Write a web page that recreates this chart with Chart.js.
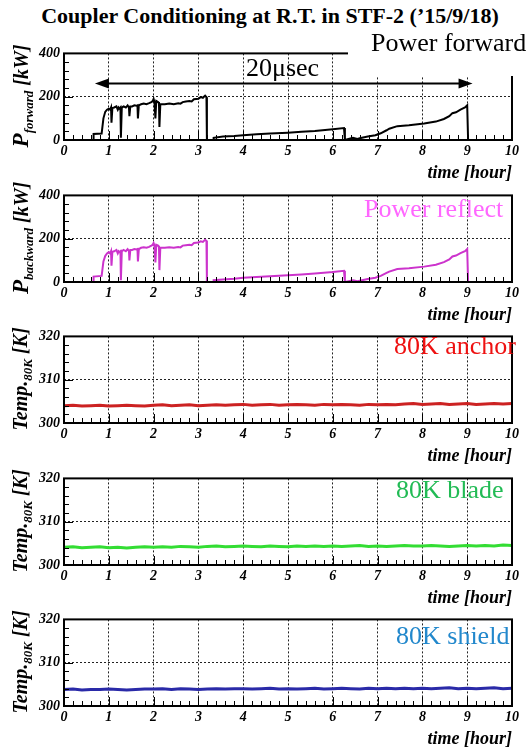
<!DOCTYPE html>
<html><head><meta charset="utf-8">
<script src="https://cdn.jsdelivr.net/npm/chart.js@4/dist/chart.umd.min.js"></script>
<style>
html,body{margin:0;padding:0;background:#fff;}
#wrap{position:relative;width:532px;height:748px;overflow:hidden;font-family:"Liberation Serif","Times New Roman",serif;}
canvas{position:absolute;left:0;}
.t{position:absolute;white-space:nowrap;line-height:1;}
.title{font-weight:bold;font-size:22px;left:0;width:540px;text-align:center;top:5px;}
.lab{font-size:26px;}
.time{font-weight:bold;font-style:italic;font-size:18px;right:20px;}
.yt{position:absolute;left:22px;white-space:nowrap;line-height:1;font-weight:bold;font-style:italic;font-size:20px;transform:translate(-50%,-50%) rotate(-90deg);}
.yt .big{font-size:23px;}
.yt sub{font-size:13px;vertical-align:-5px;}
</style></head>
<body><div id="wrap">
<canvas id="c1" width="532" height="121"></canvas>
<canvas id="c2" width="532" height="121"></canvas>
<canvas id="c3" width="532" height="121"></canvas>
<canvas id="c4" width="532" height="121"></canvas>
<canvas id="c5" width="532" height="121"></canvas>
<div class="t title">Coupler Conditioning at R.T. in STF-2 (’15/9/18)</div>
<div class="t" style="left:348px;top:36px;width:184px;height:40px;background:#fff;"></div>
<div class="t lab" style="left:371px;top:30px;">Power forward</div>
<div class="t lab" style="left:246px;top:55px;">20μsec</div>
<div class="t lab" style="left:364px;top:196px;color:#ff66ff;">Power reflect</div>
<div class="t lab" style="left:394px;top:333px;color:#ee1111;">80K anchor</div>
<div class="t lab" style="left:396px;top:477px;color:#22bb55;">80K blade</div>
<div class="t lab" style="left:396px;top:623px;color:#2288cc;">80K shield</div>
<div class="t time" style="top:163px;">time [hour]</div>
<div class="t time" style="top:305px;">time [hour]</div>
<div class="t time" style="top:446px;">time [hour]</div>
<div class="t time" style="top:588px;">time [hour]</div>
<div class="t time" style="top:729px;">time [hour]</div>
<div class="yt" style="top:96px;"><span class="big">P</span><sub>forward</sub> [kW]</div>
<div class="yt" style="top:238px;"><span class="big">P</span><sub>backward</sub> [kW]</div>
<div class="yt" style="top:379px;">Temp.<sub>80K</sub> [K]</div>
<div class="yt" style="top:521px;">Temp.<sub>80K</sub> [K]</div>
<div class="yt" style="top:662px;">Temp.<sub>80K</sub> [K]</div>
</div>
<script>
// ---- data ----
const powerHours = [
 0,0.65,0.66,0.84,0.88,0.92,0.96,1.00,1.03,1.05,
 1.06,1.08,1.12,1.17,1.20,1.22,1.24,1.26,1.27,1.29,
 1.33,1.38,1.42,1.45,1.46,1.48,1.52,1.57,1.62,1.64,
 1.65,1.67,1.72,1.78,1.84,1.90,1.95,1.98,2.00,2.02,
 2.04,2.06,2.10,2.12,2.13,2.15,2.25,2.35,2.45,2.55,
 2.60,2.65,2.72,2.80,2.85,2.90,3.00,3.05,3.10,3.15,
 3.18,3.19,3.33,3.34,3.55,3.80,4.00,4.30,4.60,5.00,
 5.30,5.60,6.00,6.25,6.27,6.35,6.45,6.55,6.60,6.78,
 6.95,7.07,7.20,7.26,7.44,7.70,8.04,8.30,8.48,8.60,
 8.67,8.75,8.85,8.95,9.00,9.02,10];
const powerForward = [
 0,0,28,30,100,130,140,145,140,150,
 80,148,150,155,140,150,145,150,10,150,
 155,150,160,150,110,155,155,160,158,160,
 100,160,165,168,165,170,175,180,190,175,
 100,180,175,170,60,165,165,168,165,170,
 168,175,178,180,178,188,190,198,195,205,
 198,0,0,10,16,18,22,26,30,34,
 38,42,50,55,0,5,10,5,8,16,
 22,31,45,52,64,68,76,85,97,110,
 124,128,140,150,160,0,0];
const powerReflect = [
 0,0,25,28,95,120,132,138,132,142,
 75,140,142,148,132,142,138,142,8,142,
 148,142,152,142,100,148,148,152,150,152,
 95,152,158,160,158,162,168,172,180,168,
 90,172,168,162,55,158,158,160,158,162,
 160,168,170,172,170,180,182,188,185,195,
 190,0,0,8,12,15,20,23,27,31,
 35,39,46,52,0,4,8,4,6,14,
 20,28,42,48,60,64,71,80,92,104,
 118,122,133,142,152,0,0];
const tempHours = [
 0,0.2,0.4,0.6,0.8,1.0,1.2,1.4,1.6,1.8,
 2.0,2.2,2.4,2.6,2.8,3.0,3.2,3.4,3.6,3.8,
 4.0,4.2,4.4,4.6,4.8,5.0,5.2,5.4,5.6,5.8,
 6.0,6.2,6.4,6.6,6.8,7.0,7.2,7.4,7.6,7.8,
 8.0,8.2,8.4,8.6,8.8,9.0,9.2,9.4,9.6,9.8,10];
const tempAnchor = [
 304.0,304.1,303.9,304.0,304.1,303.9,304.0,304.1,304.0,303.9,
 304.1,304.2,304.0,304.1,304.2,304.0,304.1,304.2,304.1,304.2,
 304.3,304.1,304.2,304.3,304.1,304.2,304.3,304.2,304.1,304.3,
 304.2,304.3,304.2,304.1,304.3,304.2,304.3,304.2,304.4,304.5,
 304.3,304.4,304.5,304.3,304.4,304.5,304.3,304.4,304.5,304.4,304.5];
const tempBlade = [
 304.1,304.2,304.0,304.1,304.2,304.0,304.1,303.9,304.1,304.2,
 304.1,304.2,304.1,304.3,304.2,304.1,304.3,304.4,304.2,304.3,
 304.4,304.3,304.2,304.4,304.3,304.2,304.4,304.3,304.4,304.3,
 304.4,304.3,304.4,304.5,304.3,304.4,304.3,304.4,304.5,304.4,
 304.4,304.5,304.4,304.3,304.4,304.5,304.4,304.5,304.4,304.6,304.5];
const tempShield = [
 303.8,303.9,303.7,303.8,303.8,303.9,303.8,303.7,303.8,303.9,
 303.9,304.0,303.8,304.0,303.9,303.8,303.9,304.0,303.9,304.0,
 304.0,303.9,304.0,304.1,303.9,304.0,303.9,304.0,304.1,303.9,
 304.0,304.1,304.0,303.9,304.1,304.0,304.1,304.0,304.1,304.0,
 304.1,304.0,304.1,304.2,304.0,304.1,304.0,304.1,304.2,304.0,304.1];
const hourTicks = [0,1,2,3,4,5,6,7,8,9,10];

// ---- drawing ----
const tickFont = {family:'"Liberation Serif", serif', size:14, style:'italic', weight:'bold'};
const framePlugin = {
  id:'frame',
  afterDraw(chart){
    const {ctx, chartArea:a, scales:{x,y}} = chart;
    const o = chart.options.plugins.frame;
    ctx.save();
    ctx.strokeStyle='#000'; ctx.lineWidth=1;
    ctx.beginPath();
    for(let k=0;k<=50;k++){
      const px=Math.round(x.getPixelForValue(k*0.2))+0.5;
      const len=(k%5===0)?9:5;
      ctx.moveTo(px,a.bottom); ctx.lineTo(px,a.bottom-len);
    }
    for(let k=0;k<=10;k++){
      const py=Math.round(y.getPixelForValue(o.min+k*o.minor))+0.5;
      const len=(k%5===0)?9:5;
      ctx.moveTo(a.left,py); ctx.lineTo(a.left+len,py);
    }
    ctx.stroke();
    ctx.lineWidth=2;
    ctx.strokeRect(a.left,a.top,a.right-a.left,a.bottom-a.top);
    if(o.arrow){
      const yy=y.getPixelForValue(o.arrow.y);
      const x1=x.getPixelForValue(o.arrow.from), x2=x.getPixelForValue(o.arrow.to);
      ctx.lineWidth=2;
      ctx.beginPath(); ctx.moveTo(x1+10,yy); ctx.lineTo(x2-10,yy); ctx.stroke();
      ctx.fillStyle='#000';
      ctx.beginPath(); ctx.moveTo(x1,yy); ctx.lineTo(x1+14,yy-5); ctx.lineTo(x1+14,yy+5); ctx.closePath(); ctx.fill();
      ctx.beginPath(); ctx.moveTo(x2,yy); ctx.lineTo(x2-14,yy-5); ctx.lineTo(x2-14,yy+5); ctx.closePath(); ctx.fill();
    }
    ctx.restore();
  }
};

function makeChart(id, top, hours, values, o){
  const el=document.getElementById(id);
  el.style.top=top+'px';
  const mid=(o.min+o.max)/2;
  new Chart(el,{
    type:'line',
    data:{datasets:[{data:hours.map((h,i)=>({x:h,y:values[i]})),borderColor:o.color,borderWidth:o.bw,pointRadius:0,tension:0,fill:false}]},
    options:{
      responsive:false,animation:false,devicePixelRatio:1,
      layout:{padding:{top:10,right:20,left:0,bottom:0}},
      plugins:{legend:{display:false},tooltip:{enabled:false},
        frame:{min:o.min,minor:(o.max-o.min)/10,arrow:o.arrow}},
      scales:{
        x:{type:'linear',min:0,max:10,
          afterBuildTicks(s){s.ticks=hourTicks.map(v=>({value:v}));},
          ticks:{font:tickFont,color:'#000',padding:3,maxRotation:0,autoSkip:false},
          grid:{drawTicks:false,lineWidth:1,color:c=>(c.tick&&c.tick.value>0&&c.tick.value<10)?'#222':'rgba(0,0,0,0)'},
          border:{display:false,dash:[2,2]},
          afterFit(s){s.height=22;}},
        y:{type:'linear',min:o.min,max:o.max,
          ticks:{stepSize:(o.max-o.min)/2,font:tickFont,color:'#000',padding:4},
          grid:{drawTicks:false,lineWidth:1,color:c=>(c.tick&&c.tick.value===mid)?'#222':'rgba(0,0,0,0)'},
          border:{display:false,dash:[2,2]},
          afterFit(s){s.width=64;}}
      }
    },
    plugins:[framePlugin]
  });
}
makeChart('c1',41,powerHours,powerForward,{min:0,max:400,color:'#000',bw:2,arrow:{from:0.69,to:9.12,y:261}});
makeChart('c2',183,powerHours,powerReflect,{min:0,max:400,color:'#cc33cc',bw:2});
makeChart('c3',324,tempHours,tempAnchor,{min:300,max:320,color:'#cc2222',bw:3});
makeChart('c4',466,tempHours,tempBlade,{min:300,max:320,color:'#33dd33',bw:3});
makeChart('c5',607,tempHours,tempShield,{min:300,max:320,color:'#2a2aa8',bw:3});
</script>
</body></html>
